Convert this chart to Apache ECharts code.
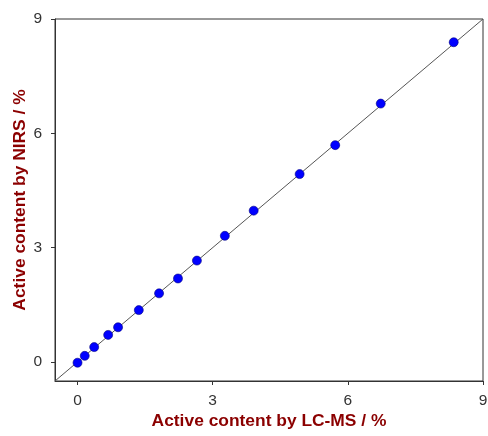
<!DOCTYPE html>
<html>
<head>
<meta charset="utf-8">
<script src="https://cdn.jsdelivr.net/npm/echarts@6/dist/echarts.min.js"></script>
<style>html,body{margin:0;padding:0;background:#fff}#c{width:488px;height:436px}</style>
</head>
<body>
<div id="c"></div>
<script>
const lcms = [0.00, 0.16, 0.37, 0.68, 0.90, 1.36, 1.81, 2.23, 2.65, 3.27, 3.91, 4.93, 5.72, 6.73, 8.35];
const nirs = [-0.02, 0.16, 0.39, 0.71, 0.91, 1.36, 1.80, 2.19, 2.66, 3.31, 3.97, 4.93, 5.69, 6.78, 8.39];
const tickValues = [0, 3, 6, 9];
const identityLine = [[-0.5, -0.5], [9, 9]];

const chart = echarts.init(document.getElementById('c'), null, {renderer: 'canvas'});
const axisCommon = {
  type: 'value', min: -0.5, max: 9,
  splitLine: {show: false},
  axisLine: {show: true, onZero: false, lineStyle: {color: '#333', width: 1}},
  axisTick: {show: true, customValues: tickValues, length: 4, lineStyle: {color: '#333'}},
  axisLabel: {customValues: tickValues, color: '#333', fontSize: 15.5, fontFamily: 'Liberation Sans, Arial, sans-serif'},
  nameLocation: 'middle',
  nameMoveOverlap: false,
  nameTextStyle: {color: '#8B0000', fontSize: 17.4, fontWeight: 'bold', fontFamily: 'Liberation Sans, Arial, sans-serif'}
};
chart.setOption({
  animation: false,
  grid: {left: 55, right: 5, top: 19, bottom: 55, show: true, borderColor: '#333', borderWidth: 1,
         containLabel: false, outerBoundsMode: 'none'},
  xAxis: Object.assign({}, axisCommon, {name: 'Active content by LC-MS / %', nameGap: 32, axisLabel: Object.assign({}, axisCommon.axisLabel, {margin: 12})}),
  yAxis: Object.assign({}, axisCommon, {name: 'Active content by NIRS / %', nameGap: 26, axisLabel: Object.assign({}, axisCommon.axisLabel, {margin: 13})}),
  series: [
    {type: 'line', data: identityLine, showSymbol: false, symbol: 'none', lineStyle: {color: '#555', width: 1}, silent: true, z: 1},
    {type: 'scatter', data: lcms.map((v, i) => [v, nirs[i]]), symbolSize: 9,
     itemStyle: {color: '#0000FF', opacity: 1, borderColor: '#000080', borderWidth: 0.6}, z: 3}
  ]
});
</script>
</body>
</html>
